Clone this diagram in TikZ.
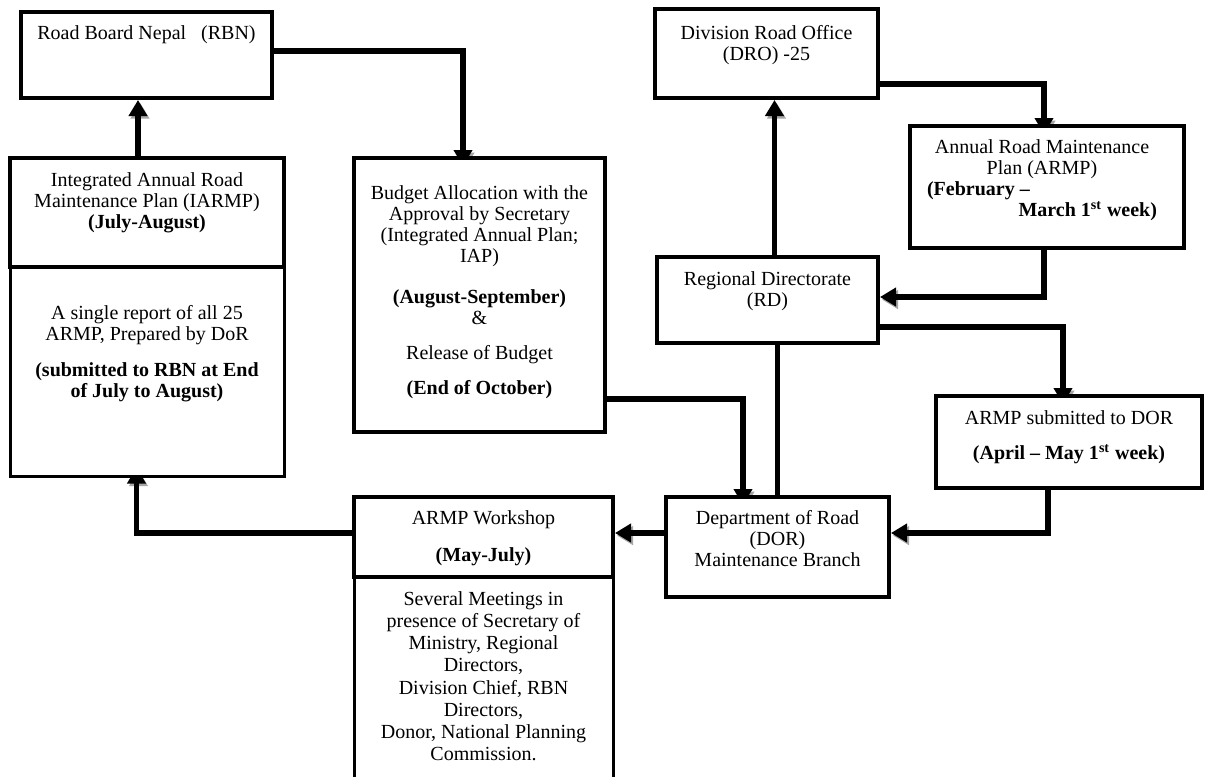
\documentclass[tikz,border=0pt]{standalone}
\usepackage{fontspec}
\setmainfont{Liberation Serif}
\usetikzlibrary{arrows.meta,calc,fit}
\pgfdeclarelayer{back}
\pgfdeclarelayer{bg}
\pgfsetlayers{back,bg,main}
\tikzset{
  box/.style={draw=black, line width=2pt, fill=white, inner sep=0pt},
  thinbox/.style={draw=black, line width=1.5pt, fill=white, inner sep=0pt},
  txt/.style={anchor=north, align=center, inner sep=0pt, font=\fontsize{10}{10.5}\selectfont},
  conn/.style={line width=2.6pt, -{Triangle[length=8pt,width=9pt]},
    preaction={draw=black!35, transform canvas={shift={(1pt,-1.3pt)}}}},
  plainconn/.style={line width=2.6pt,
    preaction={draw=black!35, transform canvas={shift={(1pt,-1.3pt)}}}},
}
\begin{document}
\begin{tikzpicture}[x=0.5pt,y=-0.5pt]
\clip (0,0) rectangle (1207,777);
\begin{pgfonlayer}{back}
\fill[white] (0,0) rectangle (1207,777);
\end{pgfonlayer}
% boxes
\node[box, fit={(21,12) (272,98)}] (rbn) {};
\node[box, fit={(10,158) (284,267)}] (iarmp) {};
\node[thinbox, fit={(10,267) (284,476)}] (iarmpL) {};
\node[box, fit={(354,158) (605,432)}] (budget) {};
\node[box, fit={(655,9) (878,98)}] (dro) {};
\node[box, fit={(910,126) (1184,248)}] (armp) {};
\node[box, fit={(657,257) (878,343)}] (rd) {};
\node[box, fit={(936,396) (1202,488)}] (armps) {};
\node[box, fit={(666,497) (889,597)}] (dor) {};
\node[box, fit={(354,497) (613,577)}] (ws) {};
\node[thinbox, fit={(354,577) (613,800)}] (wsL) {};
% texts
\node[txt] (rbnT) at (146.5,25) {Road Board Nepal~~~(RBN)};
\node[txt] (iarmpT) at (147,172) {Integrated Annual Road\\Maintenance Plan (IARMP)\\\textbf{(July-August)}};
\node[txt] (iarmpLT) at (147,305) {A single report of all 25\\ARMP, Prepared by DoR\\[7.5pt]\textbf{(submitted to RBN at End}\\\textbf{of July to August)}};
\node[txt] (budgetT) at (479.5,185) {Budget Allocation with the\\Approval by Secretary\\(Integrated Annual Plan;\\IAP)\\[10pt]\textbf{(August-September)}\\\&\\[7pt]Release of Budget\\[7pt]\textbf{(End of October)}};
\node[txt] (droT) at (766.5,25) {Division Road Office\\(DRO) -25};
\node[txt] (armpT) at (1042,139) {Annual Road Maintenance\\Plan (ARMP)\\\makebox[115pt][l]{\textbf{(February –}}\\\makebox[115pt][r]{\textbf{March 1\textsuperscript{st} week)}}};
\node[txt] (rdT) at (767.5,271) {Regional Directorate\\(RD)};
\node[txt] (armpsT) at (1069,410) {ARMP submitted to DOR\\[7pt]\textbf{(April – May 1\textsuperscript{st} week)}};
\node[txt] (dorT) at (777.5,510) {Department of Road\\(DOR)\\Maintenance Branch};
\node[txt] (wsT) at (483.5,510) {ARMP Workshop\\[8pt]\textbf{(May-July)}};
\node[txt, font=\fontsize{10}{11.1}\selectfont] (wsLT) at (483.5,591) {Several Meetings in\\presence of Secretary of\\Ministry, Regional\\Directors,\\Division Chief, RBN\\Directors,\\Donor, National Planning\\Commission.};
% connectors
\begin{pgfonlayer}{bg}
\draw[conn] ($(iarmp.north west)+(130,0)$) -- ($(rbn.south west)+(119,0)$);
\draw[conn] ($(rbn.north east)+(0,41)$) -| ($(budget.north west)+(111,10)$);
\draw[conn] ($(budget.south east)+(0,-35)$) -| ($(dor.north west)+(79,10)$);
\draw[plainconn] (rd.south -| dor.north) -- (dor.north);
\draw[conn] ($(rd.north)+(7,0)$) -- ($(dro.south)+(8,0)$);
\draw[conn] ($(dro.south east)+(0,-16)$) -| ($(armp.north west)+(136,10)$);
\draw[conn] ($(armp.south west)+(136,0)$) |- ($(rd.north east)+(0,42)$);
\draw[conn] ($(rd.south east)+(0,-18)$) -| ($(armps.north west)+(129,10)$);
\draw[conn] ($(armps.south west)+(114,0)$) |- ($(dor.north east)+(0,38)$);
\draw[conn] ($(dor.north west)+(0,38)$) -- ($(ws.north east)+(0,38)$);
\draw[conn] ($(ws.north west)+(0,38)$) -| ($(iarmpL.south west)+(128,-10)$);
\end{pgfonlayer}
\end{tikzpicture}
\end{document}
